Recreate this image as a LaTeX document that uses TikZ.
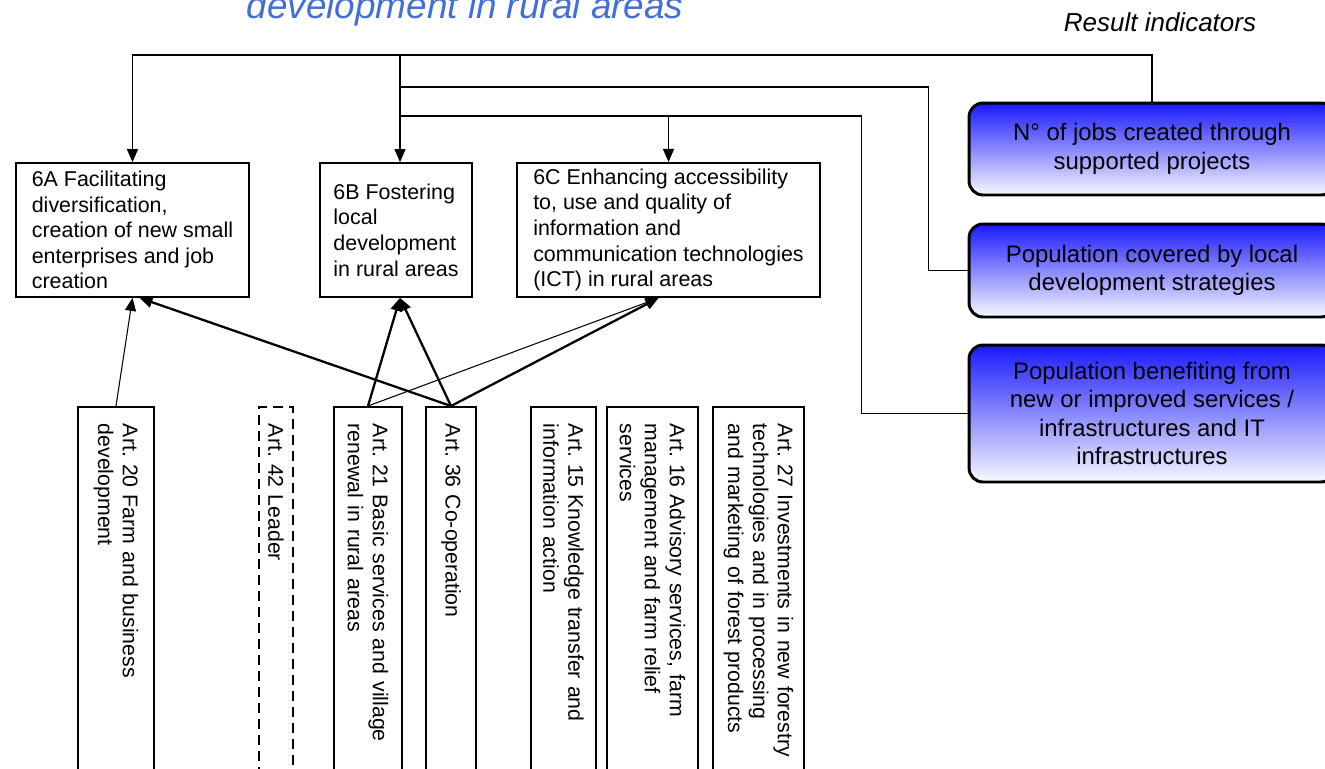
\documentclass[tikz,border=0pt]{standalone}
\usepackage{fontspec}
\setmainfont{Liberation Sans}
\usepackage{tikz}
\usetikzlibrary{%
	arrows.meta,
	positioning,% wg. " of "
	calc,
	shadings
}
\frenchspacing
\definecolor{titleblue}{RGB}{65,110,215}
\definecolor{indtop}{RGB}{25,25,255}
\definecolor{indbot}{RGB}{248,248,255}
\tikzstyle{prio}=[draw, line width = 1pt, align = left, minimum height = 2.68cm, font = \fontsize{12.2}{14.6}\selectfont]
\tikzstyle{indic}=[draw, line width = 1.7pt, rounded corners = 0.28cm, top color = indtop, bottom color = indbot, align = center, minimum width = 7.32cm, font = \fontsize{13.6}{16.2}\selectfont]
\tikzstyle{article}=[draw, line width = 1pt, rotate = -90, anchor = west, align = left, text width = 7.12cm, inner xsep = 0.34cm, inner ysep = 0pt, minimum width = 7.8cm, font = \fontsize{12.1}{14.2}\selectfont]
\tikzstyle{conn}=[draw, line width = 0.6pt]
\tikzstyle{arr}=[conn, -{Triangle[length=0.26cm,width=0.22cm]}]
\tikzstyle{weak}=[line width = 0.6pt]
\tikzstyle{strong}=[line width = 1.3pt]

\begin{document}
\begin{tikzpicture}[x=0.02cm, y=-0.02cm]
	\useasboundingbox (0,0) rectangle (1325,768);

	% Headings
	\node[anchor=base, text=titleblue, font=\fontsize{21}{25}\selectfont\itshape] (title) at (465,18.5) {development in rural areas};
	\node[anchor=base, font=\fontsize{14.8}{18}\selectfont\itshape] (resind) at (1160,31) {Result indicators};

	% First we draw the focus areas
	\node[prio, minimum width=4.66cm] (p6a) at (132.5,230) {6A Facilitating\\diversification,\\creation of new small\\enterprises and job\\creation};
	\node[prio, minimum width=3.04cm] (p6b) at (396,230) {6B Fostering\\local\\development\\in rural areas};
	\node[prio, minimum width=6.06cm] (p6c) at (668.5,230) {6C Enhancing accessibility\\to, use and quality of\\information and\\communication technologies\\(ICT) in rural areas};

	% Result indicators
	\node[indic, minimum height=1.84cm] (ind1) at (1152,149) {N° of jobs created through\\supported projects};
	\node[indic, minimum height=1.86cm] (ind2) at (1152,270.5) {Population covered by local\\development strategies};
	\node[indic, minimum height=2.74cm] (ind3) at (1152,413.5) {Population benefiting from\\new or improved services /\\infrastructures and IT\\infrastructures};

	% Then the measures
	\foreach \name/\xpos/\boxw/\txt in {
		a20/116/1.52cm/{Art. 20 Farm and business\\development},
		a21/368/1.36cm/{Art. 21 Basic services and village\\renewal in rural areas},
		a36/451/1.0cm/{Art. 36 Co-operation},
		a15/563.5/1.3cm/{Art. 15 Knowledge transfer and\\information action},
		a16/652.5/1.82cm/{Art. 16 Advisory services, farm\\management and farm relief\\services},
		a27/758.5/1.82cm/{Art. 27 Investments in new forestry\\technologies and in processing\\and marketing of forest products}}
	\node[article, minimum height=\boxw] (\name) at (\xpos,406) {\txt};
	\node[article, minimum height=0.68cm, dash pattern=on 0.2cm off 0.12cm] (a42) at (276,406) {Art. 42 Leader};

	% Connect indicators with focus areas
	\coordinate (hubA) at (400,55);
	\coordinate (hubB) at (400,87);
	\coordinate (hubC) at (400,116);
	\path[arr] (ind1.north) |- (hubA) -| (p6a.north);
	\path[arr] (hubA) -- (hubA |- p6b.north);
	\path[conn] (ind2.west) -- ++(-39,0) |- (hubB);
	\path[conn] (ind3.west) -- ++(-106,0) |- (hubC);
	\path[arr] (p6c.north |- hubC) -- (p6c.north);

	% Connect measures with focus areas
	\foreach \source/ \dest /\dx/\lw in {
		a20/p6a/0/weak,
		a36/p6a/7/strong,
		a21/p6b/4/strong,
		a36/p6b/4/strong,
		a21/p6c/-10/weak,
		a36/p6c/-10/strong}
	\path[arr, \lw] (\source.west) -- ($(\dest.south)+(\dx,0)$);

\end{tikzpicture}
\end{document}
